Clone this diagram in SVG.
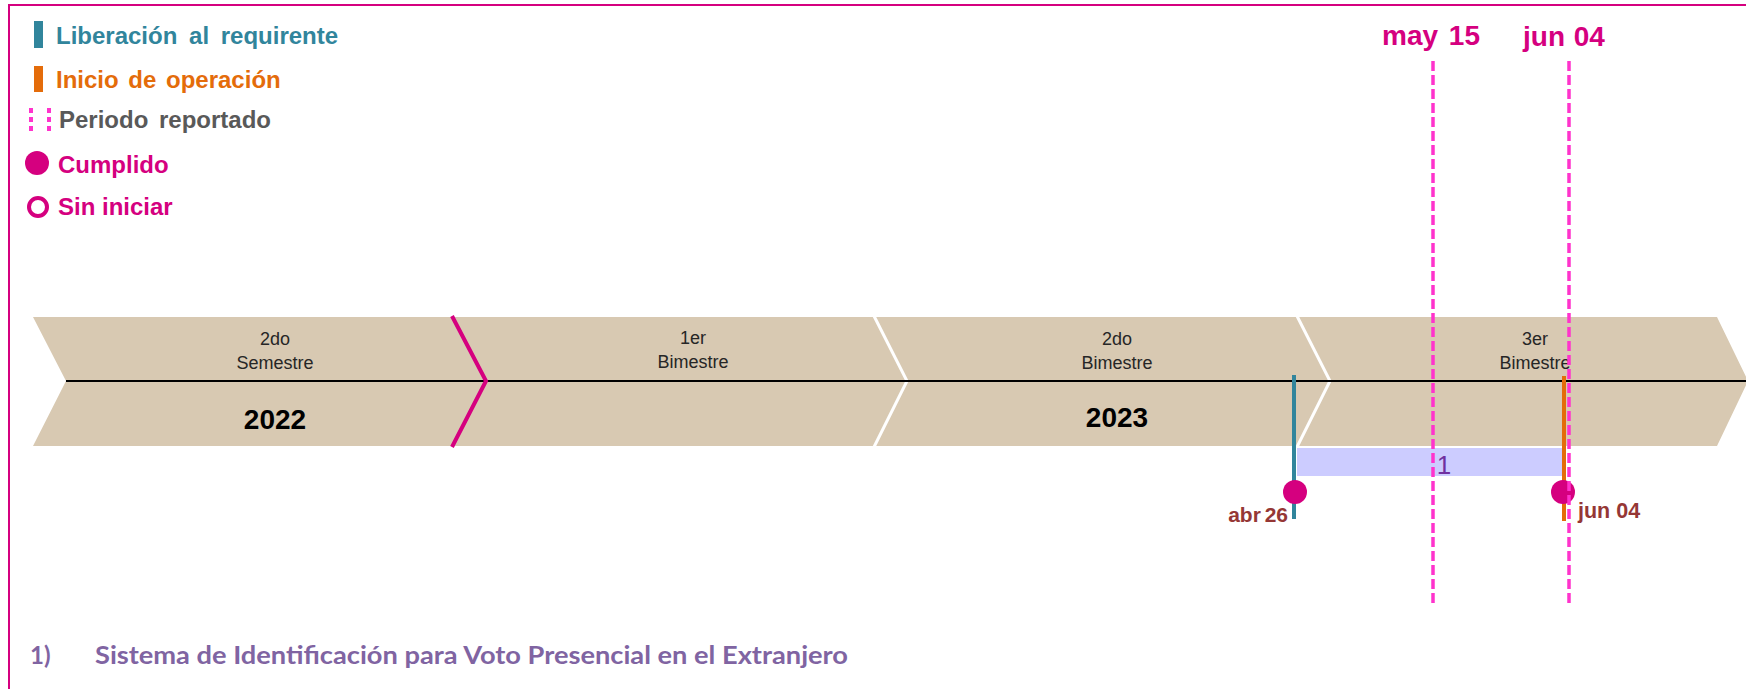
<svg xmlns="http://www.w3.org/2000/svg" width="1746" height="689" viewBox="0 0 1746 689">
<style>
.b{font-family:"Liberation Sans",Arial,sans-serif;font-weight:bold}
.r{font-family:"Liberation Sans",Arial,sans-serif}
.seg{font-size:18px;fill:#262626;text-anchor:middle}
.yr{font-size:28px;fill:#000;text-anchor:middle}
.leg{font-size:24px}
.mag{fill:#D5007F}
.per{stroke:#FF33CC;stroke-width:3.5;stroke-dasharray:10 4;fill:none}
.sep{stroke:#fff;stroke-width:3;fill:none}
</style>
<rect width="1746" height="689" fill="#fff"/>
<path d="M1746,5 H9 V689" fill="none" stroke="#D5007F" stroke-width="2"/>

<g id="legend">
  <rect x="34" y="21" width="9" height="27" fill="#31859C"/>
  <text class="b leg" x="56" y="44" fill="#31859C" word-spacing="5">Liberación al requirente</text>
  <rect x="34" y="66" width="9" height="26" fill="#E46C0A"/>
  <text class="b leg" x="56" y="88" fill="#E46C0A" word-spacing="3">Inicio de operación</text>
  <line x1="31" y1="108" x2="31" y2="132" stroke="#FF33CC" stroke-width="4" stroke-dasharray="5 4"/>
  <line x1="49" y1="108" x2="49" y2="132" stroke="#FF33CC" stroke-width="4" stroke-dasharray="5 4"/>
  <text class="b leg" x="59" y="128" fill="#595959" word-spacing="4">Periodo reportado</text>
  <circle cx="37" cy="163" r="12" class="mag"/>
  <text class="b leg mag" x="58" y="173">Cumplido</text>
  <circle cx="38" cy="207" r="9" fill="none" stroke="#D5007F" stroke-width="4"/>
  <text class="b leg mag" x="58" y="215">Sin iniciar</text>
</g>

<g id="timeline">
  <polygon points="33,317 1717,317 1748,381 1717,446 33,446 66,381" fill="#D8C9B2"/>
  <polyline class="sep" points="874,316 907,381 874,447"/>
  <polyline class="sep" points="1297,316 1330,381 1297,447"/>
  <line x1="66" y1="381" x2="1746" y2="381" stroke="#000" stroke-width="2"/>
  <polyline points="452,316 486,381 452,447" fill="none" stroke="#D5007F" stroke-width="4"/>
</g>

<g id="seg-2022">
  <text class="r seg" x="275" y="345">2do</text>
  <text class="r seg" x="275" y="369">Semestre</text>
  <text class="b yr" x="275" y="429">2022</text>
</g>
<g id="seg-1er">
  <text class="r seg" x="693" y="344">1er</text>
  <text class="r seg" x="693" y="368">Bimestre</text>
</g>
<g id="seg-2do">
  <text class="r seg" x="1117" y="345">2do</text>
  <text class="r seg" x="1117" y="369">Bimestre</text>
  <text class="b yr" x="1117" y="427">2023</text>
</g>
<g id="seg-3er">
  <text class="r seg" x="1535" y="345">3er</text>
  <text class="r seg" x="1535" y="369">Bimestre</text>
</g>

<g id="task-1">
  <rect x="1297" y="448" width="265" height="28" fill="#CCCCFF"/>
  <text class="r" x="1444" y="474" font-size="26" fill="#7030A0" text-anchor="middle">1</text>
</g>

<g id="markers">
  <line x1="1294" y1="375" x2="1294" y2="519" stroke="#31859C" stroke-width="4"/>
  <circle cx="1295" cy="492" r="12" class="mag"/>
  <text class="b" x="1288" y="522" font-size="21" fill="#953735" text-anchor="end" word-spacing="-2">abr 26</text>
  <line x1="1564" y1="376" x2="1564" y2="521" stroke="#E46C0A" stroke-width="4"/>
  <circle cx="1563" cy="492" r="12" class="mag"/>
  <text class="b" x="1578" y="518" font-size="21.5" fill="#953735">jun 04</text>
</g>

<g id="connectors">
  <line class="per" x1="1433" y1="61" x2="1433" y2="607"/>
  <line class="per" x1="1569" y1="61" x2="1569" y2="607"/>
</g>

<g id="period-labels">
  <text class="b mag" x="1382" y="45" font-size="28" word-spacing="3">may 15</text>
  <text class="b mag" x="1523" y="46" font-size="28" word-spacing="1">jun 04</text>
</g>

<g id="footer">
  <text x="30" y="664" font-family="Lato,'Liberation Sans',sans-serif" font-weight="bold" font-size="24" fill="#8064A2">1)</text>
  <text x="95" y="664" font-family="Lato,'Liberation Sans',sans-serif" font-weight="bold" font-size="24" fill="#8064A2" textLength="753" lengthAdjust="spacingAndGlyphs">Sistema de Identificación para Voto Presencial en el Extranjero</text>
</g>
</svg>
